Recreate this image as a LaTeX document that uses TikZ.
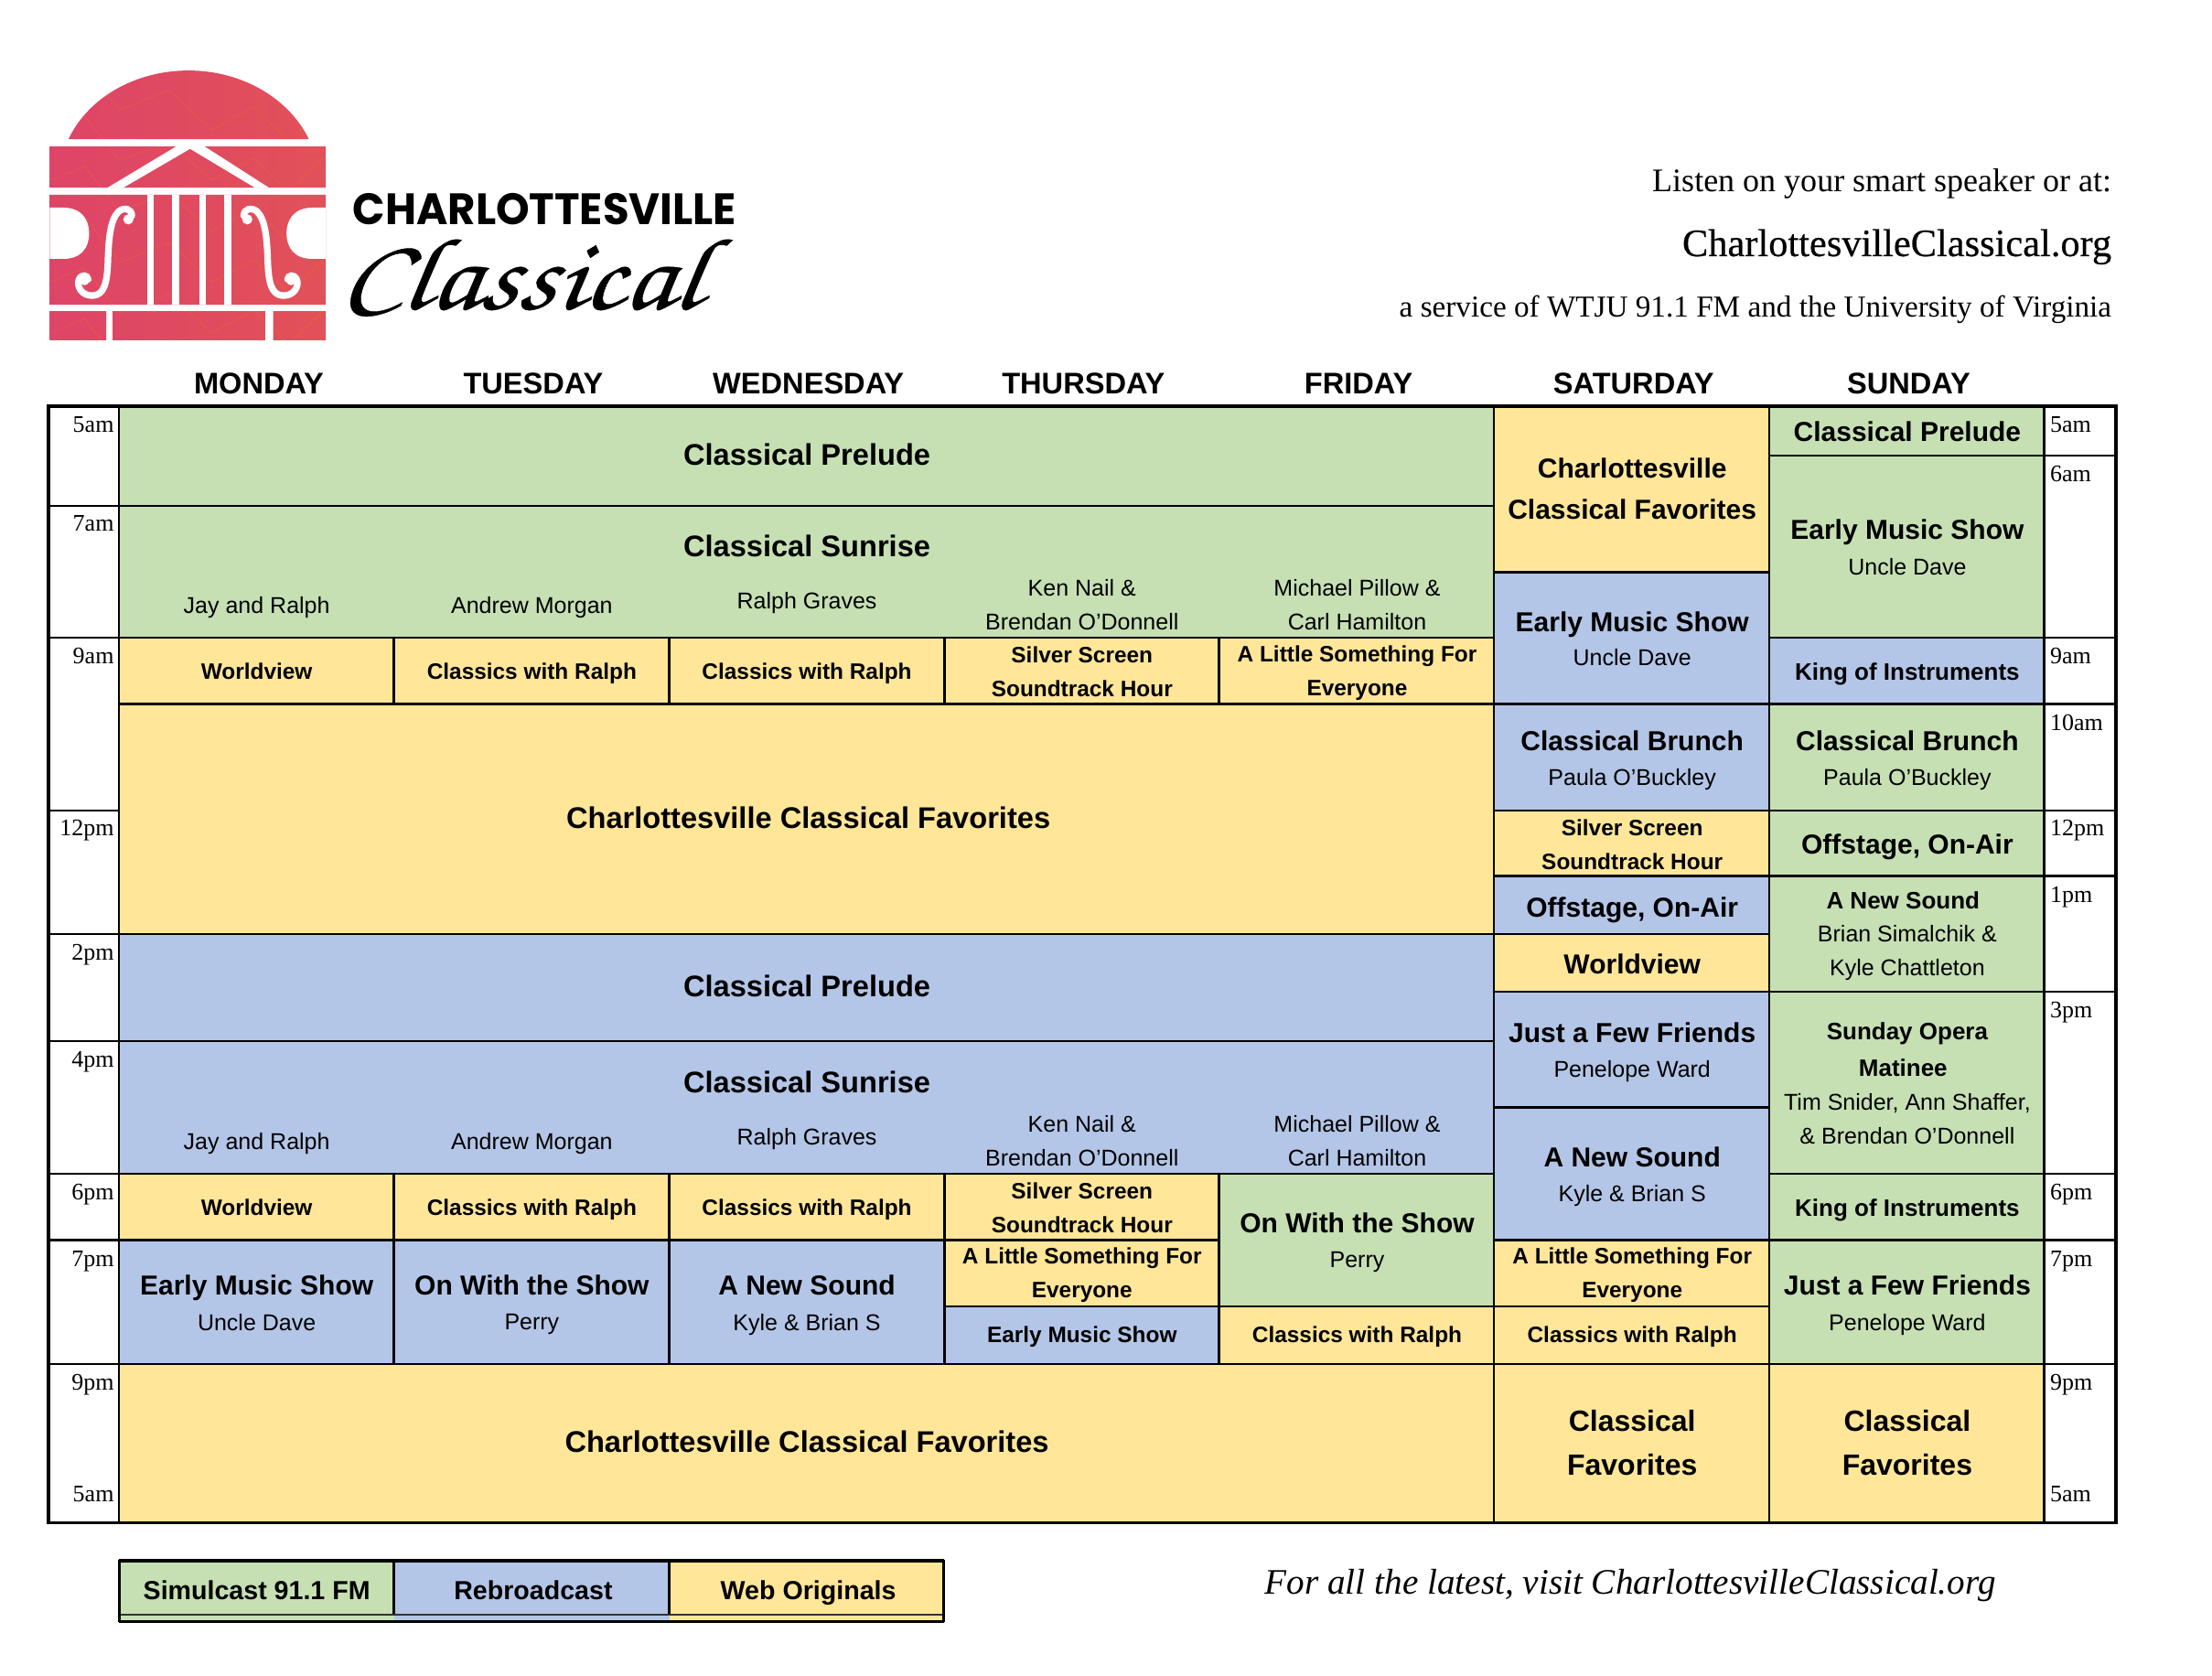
\documentclass[tikz,border=0pt]{standalone}
\usepackage{fontspec}
\usepackage{xcolor}
\setmainfont{Liberation Sans}
\newfontfamily\serifhead{Liberation Serif}
\newfontfamily\serifsite[FakeBold=0.4]{Liberation Serif}
\newfontfamily\logohead[FakeStretch=0.97]{Poppins}
\newfontfamily\swashhead[FakeBold=0.35,FakeSlant=0.15,FakeStretch=1.15]{TeX Gyre Chorus}
\definecolor{simulcast}{HTML}{C6E0B4}
\definecolor{rebroadcast}{HTML}{B4C6E7}
\definecolor{weboriginal}{HTML}{FFE699}
\definecolor{logoleft}{HTML}{DE4468}
\definecolor{logoright}{HTML}{E25158}
\tikzset{
  slot/.style={draw=black,line width=1.25pt},
  dayname/.style={font=\fontsize{16.3}{18}\selectfont\bfseries,inner sep=0pt,text depth=0pt},
  bigshow/.style={font=\fontsize{16.3}{18}\selectfont\bfseries,inner sep=0pt,text depth=0pt},
  midshow/.style={font=\fontsize{15}{18}\selectfont\bfseries,inner sep=0pt,text depth=0pt},
  kingshow/.style={font=\fontsize{13}{18}\selectfont\bfseries,inner sep=0pt,text depth=0pt},
  smallshow/.style={font=\fontsize{12.2}{18.5}\selectfont\bfseries,inner sep=0pt,text depth=0pt},
  twoline/.style={font=\fontsize{12.2}{18.5}\selectfont\bfseries,inner sep=0pt,align=center},
  hostname/.style={font=\fontsize{12.5}{18.5}\selectfont,inner sep=0pt,text depth=0pt},
  hostlines/.style={font=\fontsize{12.5}{18.5}\selectfont,inner sep=0pt,align=center},
  hourleft/.style={font=\serifhead\fontsize{13}{15}\selectfont,inner sep=0pt,anchor=east,text depth=0pt},
  hourright/.style={font=\serifhead\fontsize{13}{15}\selectfont,inner sep=0pt,anchor=west,text depth=0pt},
  headline/.style={inner sep=0pt,anchor=east,text depth=0pt},
  keylabel/.style={font=\fontsize{14.3}{16}\selectfont\bfseries,inner sep=0pt,text depth=0pt},
}
\begin{document}
\begin{tikzpicture}[x=0.7710pt,y=-0.7710pt]
    \useasboundingbox (0,0) rectangle (1568,1188);
    % logo
    \begin{scope}
      \clip (48.6,98.6) .. controls (62,70) and (95,50) .. (133.7,50)
        .. controls (172,50) and (205,70) .. (218.9,98.6) -- cycle
        (35.3,103.9) rectangle (231,133)
        (35.3,138.1) rectangle (231,216)
        (35.3,220.5) rectangle (75.3,241.2)
        (79.8,220.5) rectangle (188,241.2)
        (193.6,220.5) rectangle (231,241.2);
      \shade[left color=logoleft,right color=logoright] (30,45) rectangle (235,245);
      \foreach \a in {0,1,...,5}
        \draw[orange,opacity=0.3,line width=0.3pt]
          (30,58+36*\a) -- (60,46+36*\a) -- (85,78+36*\a) -- (120,64+36*\a) -- (150,92+36*\a)
          -- (180,76+36*\a) -- (205,100+36*\a) -- (235,70+36*\a);
    \end{scope}
    \fill[white] (124.7,103.9) -- (76.3,133) -- (87.5,133) -- (134.8,105.5)
      -- (180.6,133) -- (190.6,133) -- (145.2,103.9) -- cycle;
    \foreach \a/\b in {104.4/109,122/127,141.4/146,159/164}
      \fill[white] (\a,138.1) rectangle (\b,216);
    \foreach \sx/\off in {1/0,-1/266.3}
      {
      \begin{scope}[shift={(\off,0)},xscale=\sx]
        \fill[white] (35.3,147.2) -- (45,147.2) .. controls (58,147.2) and (63.2,156) .. (63.2,165.4)
          .. controls (63.2,175) and (58,183.5) .. (45,183.5) -- (35.3,183.5) -- cycle;
        \draw[white,line width=3.6pt,line cap=round] (93.5,153) .. controls (93.5,148) and (88,146.5) .. (84,150)
          .. controls (78,156) and (77,170) .. (76.5,185) .. controls (76,200) and (74,209) .. (66,209.5)
          .. controls (58,210) and (54,203) .. (56,198) .. controls (58,194) and (62,195) .. (62.5,198);
        \fill[white] (91,155.5) circle [radius=3.6];
        \fill[white] (60,199) circle [radius=3.2];
      \end{scope}
      }
    \node[inner sep=0pt,anchor=base west,font=\logohead\fontsize{24}{26}\selectfont\bfseries] (logoname) at (250,159) {CHARLOTTESVILLE};
    \node[inner sep=0pt,anchor=base west,font=\swashhead\fontsize{56}{58}\selectfont] (logoscript) at (240,219) {Classical};
    % header
    \node[headline,font=\serifhead\fontsize{18}{20}\selectfont] (listen) at (1497,128) {Listen on your smart speaker or at:};
    \node[headline,font=\serifsite\fontsize{21.2}{23}\selectfont] (website) at (1497,172) {CharlottesvilleClassical.org};
    \node[headline,font=\serifhead\fontsize{16.6}{19}\selectfont] (service) at (1497,217) {a service of WTJU 91.1 FM and the University of Virginia};
    % days
    \foreach \d/\x in {MONDAY/183.5,TUESDAY/378,WEDNESDAY/573,THURSDAY/768,FRIDAY/963,SATURDAY/1158,SUNDAY/1353}
      \node[dayname] (day\d) at (\x,272) {\d};
    % grid
    \foreach \xa/\ya/\xb/\yb in {84.3/288/1059/358.5,84.3/358.5/1059/452,864/832/1059/926,
        1254/288/1449/323,1254/323/1449/452,1254/499/1449/574.5,1254/574.5/1449/621,
        1254/621/1449/703,1254/703/1449/832,1254/832/1449/879,1254/879/1449/967}
      \draw[slot,fill=simulcast] (\xa,\ya) rectangle (\xb,\yb);
    \foreach \xa/\ya/\xb/\yb in {84.3/662/1059/738,84.3/738/1059/832,84.3/879/279.3/967,
        279.3/879/474.5/967,474.5/879/669.5/967,669.5/926/864/967,1059/405.5/1254/499,
        1059/499/1254/574.5,1059/621/1254/662,1059/703/1254/785,1059/785/1254/879,1254/452/1449/499}
      \draw[slot,fill=rebroadcast] (\xa,\ya) rectangle (\xb,\yb);
    \foreach \xa/\ya/\xb/\yb in {84.3/452/279.3/499,279.3/452/474.5/499,474.5/452/669.5/499,
        669.5/452/864/499,864/452/1059/499,84.3/499/1059/662,84.3/832/279.3/879,279.3/832/474.5/879,
        474.5/832/669.5/879,669.5/832/864/879,669.5/879/864/926,864/926/1059/967,84.3/967/1059/1079.5,
        1059/288/1254/405.5,1059/574.5/1254/621,1059/662/1254/703,1059/879/1254/926,1059/926/1254/967,
        1059/967/1254/1079.5,1254/967/1449/1079.5}
      \draw[slot,fill=weboriginal] (\xa,\ya) rectangle (\xb,\yb);
    \foreach \y in {358.5,452,574.5,662,738,832,879,967}
      \draw[slot] (34.3,\y) -- (84.3,\y);
    \foreach \y in {323,452,499,574.5,621,703,832,879,967}
      \draw[slot] (1449,\y) -- (1500,\y);
    \draw[line width=1.75pt] (34.3,288) rectangle (1500,1079.5);
    % hours
    \foreach \t/\y [count=\i] in {5am/301,7am/371,9am/465,12pm/587,2pm/675,4pm/751,6pm/845,7pm/892,9pm/980,5am/1059}
      \node[hourleft] (hourL\i) at (81,\y) {\t};
    \foreach \t/\y [count=\i] in {5am/301,6am/336,9am/465,10am/512,12pm/587,1pm/634,3pm/716,6pm/845,7pm/892,9pm/980,5am/1059}
      \node[hourright] (hourR\i) at (1453,\y) {\t};
    % weekdays
    \node[bigshow] (preludeAm) at (572,322) {Classical Prelude};
    \node[bigshow] (sunriseAm) at (572,387) {Classical Sunrise};
    \node[bigshow] (favoritesDay) at (573,579.5) {Charlottesville Classical Favorites};
    \node[bigshow] (preludePm) at (572,699) {Classical Prelude};
    \node[bigshow] (sunrisePm) at (572,767) {Classical Sunrise};
    \node[bigshow] (favoritesNight) at (572,1022) {Charlottesville Classical Favorites};
    \foreach \y/\s in {429/Am,809/Pm}
      {
      \node[hostname] (jay\s) at (182,\y) {Jay and Ralph};
      \node[hostname] (andrew\s) at (377,\y) {Andrew Morgan};
      \node[hostname] (graves\s) at (572,\y-3) {Ralph Graves};
      \node[hostlines] (nail\s) at (767,\y) {Ken Nail \&\\Brendan O'Donnell};
      \node[hostlines] (pillow\s) at (962,\y) {Michael Pillow \&\\Carl Hamilton};
      }
    \foreach \y/\s in {476/Am,856/Pm}
      {
      \node[smallshow] (world\s) at (182,\y) {Worldview};
      \node[smallshow] (ralphA\s) at (377,\y) {Classics with Ralph};
      \node[smallshow] (ralphB\s) at (572,\y) {Classics with Ralph};
      \node[twoline] (silver\s) at (767,\y) {Silver Screen\\Soundtrack Hour};
      }
    \node[twoline] (littleAm) at (962,477) {A Little Something For\\Everyone};
    \node[midshow] (withshowFri) at (962,867) {On With the Show};
    \node[hostname] (perryFri) at (962,893) {Perry};
    \node[midshow] (earlyMon) at (182,911) {Early Music Show};
    \node[hostname] (daveMon) at (182,937) {Uncle Dave};
    \node[midshow] (withshowTue) at (377,911) {On With the Show};
    \node[hostname] (perryTue) at (377,937) {Perry};
    \node[midshow] (soundWed) at (572,911) {A New Sound};
    \node[hostname] (kyleWed) at (572,937) {Kyle \& Brian S};
    \node[twoline] (littleThu) at (767,904) {A Little Something For\\Everyone};
    \node[smallshow] (earlyThu) at (767,946) {Early Music Show};
    \node[smallshow] (ralphFri) at (962,946) {Classics with Ralph};
    % saturday
    \node[midshow,align=center,text depth=,font=\fontsize{15}{22.4}\selectfont\bfseries] (favoritesSat) at (1157,346.5) {Charlottesville\\Classical Favorites};
    \node[midshow] (earlySat) at (1157,441) {Early Music Show};
    \node[hostname] (daveSat) at (1157,466) {Uncle Dave};
    \node[midshow] (brunchSat) at (1157,525) {Classical Brunch};
    \node[hostname] (paulaSat) at (1157,551) {Paula O'Buckley};
    \node[twoline] (silverSat) at (1157,598.5) {Silver Screen\\Soundtrack Hour};
    \node[midshow] (offstageSat) at (1157,643) {Offstage, On-Air};
    \node[midshow] (worldSat) at (1157,683) {Worldview};
    \node[midshow] (friendsSat) at (1157,732) {Just a Few Friends};
    \node[hostname] (wardSat) at (1157,758) {Penelope Ward};
    \node[midshow] (soundSat) at (1157,820) {A New Sound};
    \node[hostname] (kyleSat) at (1157,846) {Kyle \& Brian S};
    \node[twoline] (littleSat) at (1157,904) {A Little Something For\\Everyone};
    \node[smallshow] (ralphSat) at (1157,946) {Classics with Ralph};
    \node[bigshow,align=center,text depth=,font=\fontsize{16}{23.8}\selectfont\bfseries] (classicalSat) at (1157,1022.5) {Classical\\Favorites};
    % sunday
    \node[midshow] (preludeSun) at (1352,306) {Classical Prelude};
    \node[midshow] (earlySun) at (1352,375) {Early Music Show};
    \node[hostname] (daveSun) at (1352,402) {Uncle Dave};
    \node[kingshow] (kingAm) at (1352,476) {King of Instruments};
    \node[midshow] (brunchSun) at (1352,525) {Classical Brunch};
    \node[hostname] (paulaSun) at (1352,551) {Paula O'Buckley};
    \node[midshow] (offstageSun) at (1352,598) {Offstage, On-Air};
    \node[kingshow] (soundSun) at (1349,638) {A New Sound};
    \node[hostlines] (brianSun) at (1352,675.5) {Brian Simalchik \&\\Kyle Chattleton};
    \node[kingshow] (operaSun) at (1352,731) {Sunday Opera};
    \node[kingshow] (matineeSun) at (1349,757) {Matinee};
    \node[hostlines] (sniderSun) at (1352,793) {Tim Snider, Ann Shaffer,\\\& Brendan O'Donnell};
    \node[kingshow] (kingPm) at (1352,856) {King of Instruments};
    \node[midshow] (friendsSun) at (1352,911) {Just a Few Friends};
    \node[hostname] (wardSun) at (1352,937) {Penelope Ward};
    \node[bigshow,align=center,text depth=,font=\fontsize{16}{23.8}\selectfont\bfseries] (classicalSun) at (1352,1022.5) {Classical\\Favorites};
    % legend
    \foreach \xa/\xb/\c in {84.5/279.2/simulcast,279.2/474.4/rebroadcast,474.4/669/weboriginal}
      \draw[slot,fill=\c] (\xa,1106.4) rectangle (\xb,1144.5);
    \foreach \xa/\xb/\c in {84.5/279.2/simulcast,279.2/474.4/rebroadcast,474.4/669/weboriginal}
      \fill[\c] (\xa,1144.5) rectangle (\xb,1149.5);
    \draw[line width=0.9pt,black!80] (84.5,1144.5) -- (669,1144.5);
    \draw[line width=1.25pt] (84.5,1106.4) -- (84.5,1149.5) (669,1106.4) -- (669,1149.5);
    \draw[line width=1.75pt] (84.5,1106.4) -- (669,1106.4) (84,1149.5) -- (669.5,1149.5);
    \node[keylabel] (keySimulcast) at (182,1127) {Simulcast 91.1 FM};
    \node[keylabel] (keyRebroadcast) at (378,1127) {Rebroadcast};
    \node[keylabel] (keyWeb) at (573,1127) {Web Originals};
    \node[headline,font=\serifhead\itshape\fontsize{19.6}{21}\selectfont] (latest) at (1415,1121) {For all the latest, visit CharlottesvilleClassical.org};
  \end{tikzpicture}
\end{document}
